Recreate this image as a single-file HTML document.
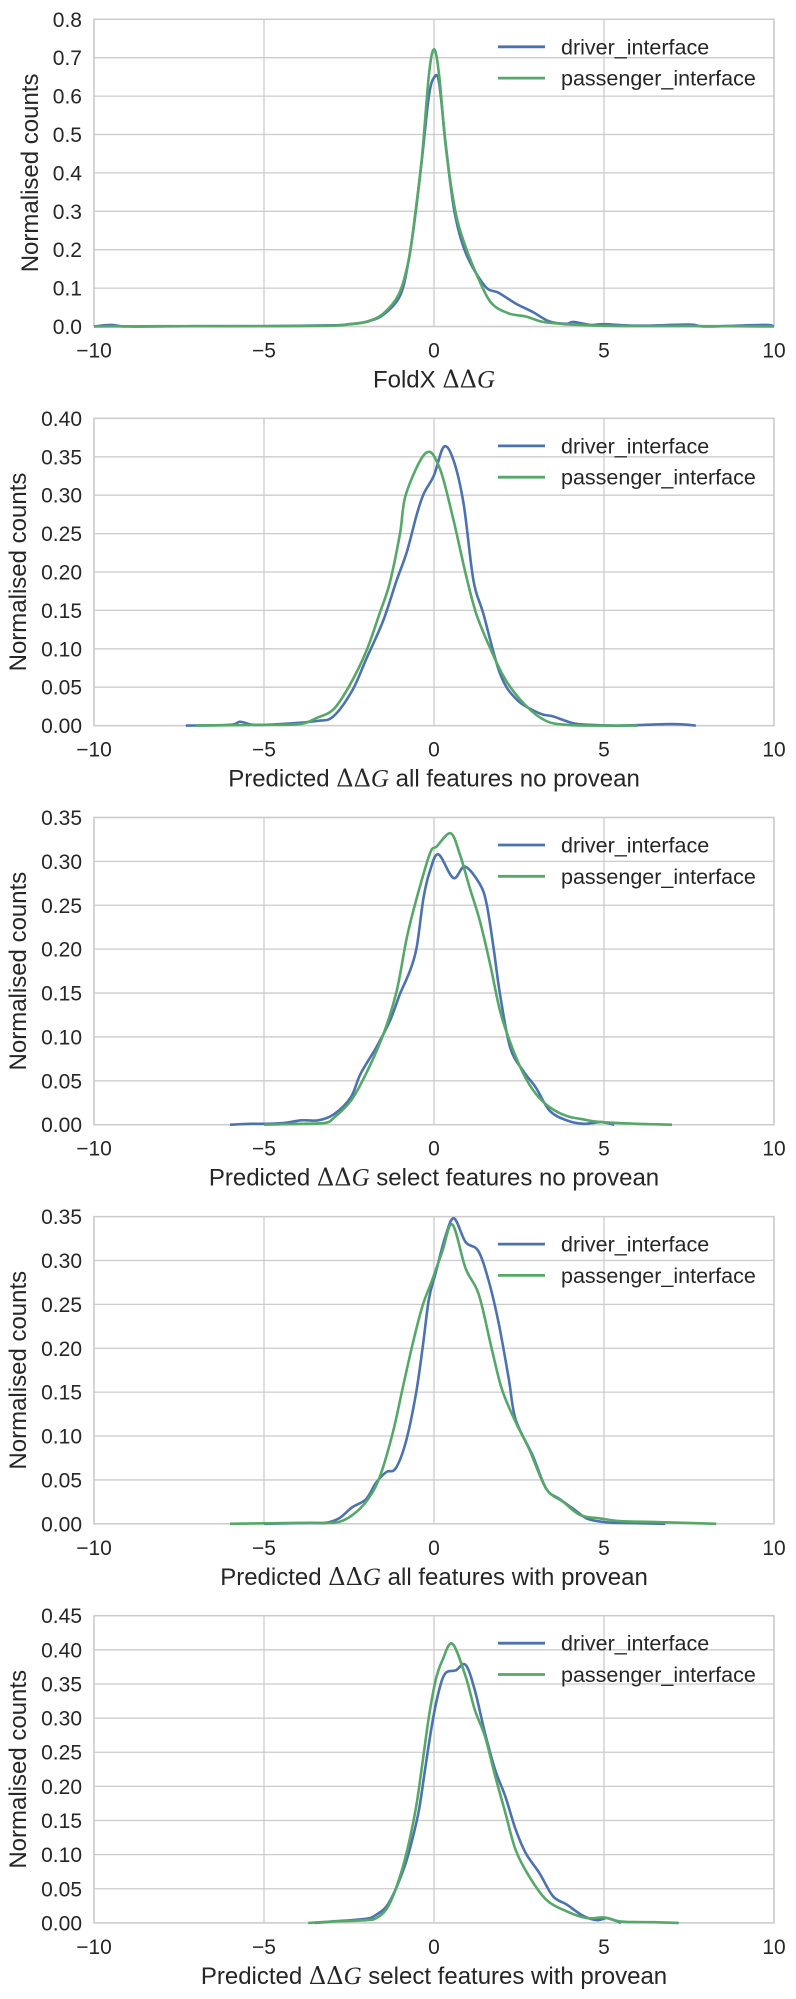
<!DOCTYPE html>
<html><head><meta charset="utf-8"><style>
html,body{margin:0;padding:0;background:#fff;}
svg{display:block;font-family:"Liberation Sans",sans-serif;}
</style></head><body>
<svg id="chart" width="796" height="1999" viewBox="0 0 796 1999" xmlns="http://www.w3.org/2000/svg"></svg>
<script>
const xTicks=[-10,-5,0,5,10];
const xTickLabels=["\u221210","\u22125","0","5","10"];
const seriesNames=["driver_interface","passenger_interface"];
const seriesColors=["#4c72b0","#55a868"];
const panelMax=[0.8,0.4,0.35,0.35,0.45];
const panelStep=[0.1,0.05,0.05,0.05,0.05];
const panelLabels=["FoldX","Predicted","Predicted","Predicted","Predicted"];
const panelLabelSuffix=[""," all features no provean"," select features no provean"," all features with provean"," select features with provean"];

const p1DriverX=[-10,-9.5,-9,-7,-5,-3,-2.5,-2,-1.5,-1,-0.75,-0.55,-0.35,-0.15,0,0.15,0.35,0.6,0.94,1.5,1.9,2.4,2.9,3.4,3.9,4.1,4.6,5,6,7.5,8,9.7,10];
const p1DriverY=[0,0.004,0,0.001,0.001,0.003,0.006,0.012,0.03,0.08,0.17,0.29,0.44,0.6,0.648,0.635,0.47,0.3,0.19,0.105,0.088,0.06,0.038,0.013,0.007,0.012,0.004,0.006,0.002,0.005,0,0.004,0];
const p1PassX=[-10,-8,-5,-3,-2.5,-2,-1.5,-1.03,-0.74,-0.55,-0.35,-0.15,0,0.15,0.35,0.64,0.94,1.33,1.7,2.2,2.7,3.2,3.9,4.9,6,8,10];
const p1PassY=[0,0.001,0.001,0.002,0.006,0.012,0.033,0.085,0.175,0.295,0.445,0.655,0.722,0.655,0.465,0.295,0.205,0.12,0.06,0.034,0.026,0.012,0.006,0.002,0.001,0.001,0];

const p2DriverX=[-7.3,-6,-5.7,-5.3,-4.5,-3.45,-2.96,-2.4,-2.0,-1.5,-1.1,-0.8,-0.5,-0.3,0,0.29,0.57,0.87,1.16,1.45,1.94,2.43,3.1,3.5,4.1,4.6,5.5,7,7.7];
const p2DriverY=[0,0.001,0.005,0.001,0.002,0.006,0.012,0.046,0.086,0.136,0.189,0.226,0.276,0.302,0.326,0.363,0.346,0.289,0.189,0.146,0.068,0.034,0.016,0.012,0.003,0.001,0,0.002,0];
const p2PassX=[-7,-5,-3.94,-3.45,-2.96,-2.5,-2.0,-1.6,-1.3,-1.0,-0.82,-0.24,0.16,0.55,0.94,1.24,1.63,2.1,2.7,3.3,3.9,4.6,6];
const p2PassY=[0,0.001,0.002,0.01,0.021,0.051,0.096,0.146,0.186,0.25,0.302,0.355,0.336,0.272,0.196,0.146,0.103,0.06,0.026,0.006,0.001,0,0];

const p3DriverX=[-6,-5.4,-4.9,-4.4,-3.9,-3.4,-2.94,-2.45,-2.16,-1.7,-1.3,-1.0,-0.71,-0.51,-0.31,-0.12,0.13,0.57,0.91,1.35,1.55,1.75,1.94,2.24,2.63,3.0,3.4,3.9,4.4,4.9,5.3];
const p3DriverY=[0,0.001,0.001,0.002,0.005,0.005,0.012,0.031,0.058,0.088,0.118,0.149,0.175,0.202,0.258,0.289,0.308,0.281,0.294,0.274,0.251,0.202,0.149,0.088,0.061,0.042,0.016,0.005,0.001,0.003,0];
const p3PassX=[-5,-3.9,-3.2,-2.94,-2.45,-2.0,-1.49,-1.1,-0.8,-0.51,-0.12,0.08,0.49,0.76,1.05,1.35,1.65,1.94,2.24,2.63,3.0,3.4,3.9,4.4,4.9,6,7];
const p3PassY=[0,0.001,0.002,0.008,0.027,0.058,0.103,0.152,0.213,0.258,0.309,0.317,0.332,0.308,0.27,0.232,0.183,0.13,0.094,0.058,0.035,0.02,0.01,0.006,0.003,0.001,0];

const p4DriverX=[-5,-3.6,-3.2,-2.8,-2.4,-2.0,-1.7,-1.4,-1.13,-0.83,-0.54,-0.34,-0.15,0.05,0.34,0.59,0.93,1.3,1.6,1.9,2.2,2.4,2.9,3.3,3.7,4.1,4.5,5,5.5,6.8];
const p4DriverY=[0,0.001,0.001,0.006,0.019,0.028,0.047,0.059,0.063,0.093,0.146,0.199,0.256,0.286,0.328,0.348,0.321,0.311,0.278,0.229,0.165,0.119,0.078,0.04,0.028,0.017,0.006,0.002,0.001,0];
const p4PassX=[-6,-4,-3.2,-2.8,-2.4,-2.0,-1.62,-1.23,-0.93,-0.64,-0.34,-0.05,0.25,0.54,0.93,1.32,1.7,2.0,2.4,2.8,3.3,3.8,4.3,4.9,5.5,6.5,8.3];
const p4PassY=[0,0.001,0.001,0.002,0.01,0.025,0.051,0.101,0.153,0.203,0.248,0.278,0.311,0.341,0.291,0.261,0.199,0.153,0.116,0.085,0.04,0.025,0.01,0.006,0.003,0.002,0];

const p5DriverX=[-3.5,-3,-2,-1.7,-1.4,-1.13,-0.83,-0.64,-0.44,-0.25,-0.05,0.15,0.34,0.64,0.93,1.2,1.5,1.8,2.1,2.4,2.7,3.1,3.5,3.9,4.4,4.8,5.1,5.5];
const p5DriverY=[0,0.002,0.006,0.012,0.024,0.049,0.088,0.122,0.166,0.229,0.293,0.341,0.366,0.37,0.378,0.341,0.278,0.224,0.185,0.137,0.102,0.073,0.039,0.027,0.01,0.004,0.007,0];
const p5PassX=[-3.7,-3,-2,-1.7,-1.4,-1.13,-0.83,-0.54,-0.34,-0.15,0.05,0.25,0.54,0.93,1.2,1.5,1.8,2.1,2.4,2.8,3.3,3.9,4.5,5,5.5,6.5,7.2];
const p5PassY=[0,0.002,0.004,0.007,0.02,0.049,0.098,0.166,0.234,0.302,0.356,0.385,0.409,0.361,0.312,0.273,0.215,0.161,0.107,0.068,0.034,0.017,0.007,0.008,0.002,0.001,0];

const panelSeries=[
 [[p1DriverX,p1DriverY],[p1PassX,p1PassY]],
 [[p2DriverX,p2DriverY],[p2PassX,p2PassY]],
 [[p3DriverX,p3DriverY],[p3PassX,p3PassY]],
 [[p4DriverX,p4DriverY],[p4PassX,p4PassY]],
 [[p5DriverX,p5DriverY],[p5PassX,p5PassY]]
];

const NS="http://www.w3.org/2000/svg";
const svg=document.getElementById('chart');
function mk(tag,attrs,parent){const e=document.createElementNS(NS,tag);for(const k in attrs)e.setAttribute(k,attrs[k]);(parent||svg).appendChild(e);return e;}
const L=94,W=680,H=307.2,T0=19.3,DY=399.1;
const TXT="#262626",GRID="#cccccc";

function smoothPath(pts){
  let d="M"+pts[0][0].toFixed(2)+","+pts[0][1].toFixed(2);
  for(let i=0;i<pts.length-1;i++){
    const p0=pts[i-1]||pts[i],p1=pts[i],p2=pts[i+1],p3=pts[i+2]||p2;
    const c1=[p1[0]+(p2[0]-p0[0])/6,p1[1]+(p2[1]-p0[1])/6];
    const c2=[p2[0]-(p3[0]-p1[0])/6,p2[1]-(p3[1]-p1[1])/6];
    d+=" C"+c1[0].toFixed(2)+","+c1[1].toFixed(2)+" "+c2[0].toFixed(2)+","+c2[1].toFixed(2)+" "+p2[0].toFixed(2)+","+p2[1].toFixed(2);
  }
  return d;
}

for(let p=0;p<5;p++){
  const top=T0+DY*p, bot=top+H;
  const xs=v=>L+(v+10)/20*W;
  const ys=v=>bot-v/panelMax[p]*H;
  const g=mk('g',{});
  
  
  const n=Math.round(panelMax[p]/panelStep[p]);
  const dec=panelStep[p]<0.1?2:1;
  for(let i=0;i<=n;i++){
    const v=i*panelStep[p], y=ys(v);
    const gl=mk('line',{x1:L,x2:L+W,y1:y,y2:y,stroke:GRID,'stroke-width':1.3},g);
    
    
    const t=mk('text',{x:L-12,y:y+7.5,'text-anchor':'end','font-size':21,fill:TXT},g);
    
    
    t.textContent=v.toFixed(dec);
  }
  for(let i=0;i<xTicks.length;i++){
    const x=xs(xTicks[i]);
    const gl=mk('line',{x1:x,x2:x,y1:top,y2:bot,stroke:GRID,'stroke-width':1.3},g);
    
    
    const t=mk('text',{x:x,y:bot+31,'text-anchor':'middle','font-size':21,fill:TXT},g);
    
    
    t.textContent=xTickLabels[i];
  }
  const fr=mk('rect',{x:L,y:top,width:W,height:H,fill:'none',stroke:GRID,'stroke-width':1.5},g);
  
  
  for(let s=0;s<2;s++){
    const X=panelSeries[p][s][0],Y=panelSeries[p][s][1];
    const pts=X.map((v,i)=>[xs(v),ys(Y[i])]);
    const path=mk('path',{d:smoothPath(pts),fill:'none',stroke:seriesColors[s],'stroke-width':2.6,'stroke-linejoin':'round'},g);
    
    
  }
  for(let s=0;s<2;s++){
    const ly=top+27.5+31.3*s;
    const ll=mk('line',{x1:498,x2:545,y1:ly,y2:ly,stroke:seriesColors[s],'stroke-width':2.8},g);
    
    
    const lt=mk('text',{x:561,y:ly+7.5,'font-size':21.5,fill:TXT},g);
    
    
    lt.textContent=seriesNames[s];
  }
  const yl=mk('text',{x:0,y:0,'text-anchor':'middle','font-size':24,fill:TXT,transform:'translate('+(p===0?38:26)+','+(top+H/2)+') rotate(-90)'},g);
  
  
  yl.textContent='Normalised counts';
  const xl=mk('text',{x:L+W/2,y:bot+61,'text-anchor':'middle','font-size':24,fill:TXT},g);
  
  
  const a=mk('tspan',{},xl);a.textContent=panelLabels[p]+' ';
  const b=mk('tspan',{'font-family':'"DejaVu Serif","Liberation Serif",serif'},xl);b.textContent='\u0394\u0394';
  const c=mk('tspan',{'font-family':'"Liberation Serif",serif','font-style':'italic','font-size':25},xl);c.textContent='G';
  if(panelLabelSuffix[p]){const d=mk('tspan',{},xl);d.textContent=panelLabelSuffix[p];}
}
</script>
</body></html>
